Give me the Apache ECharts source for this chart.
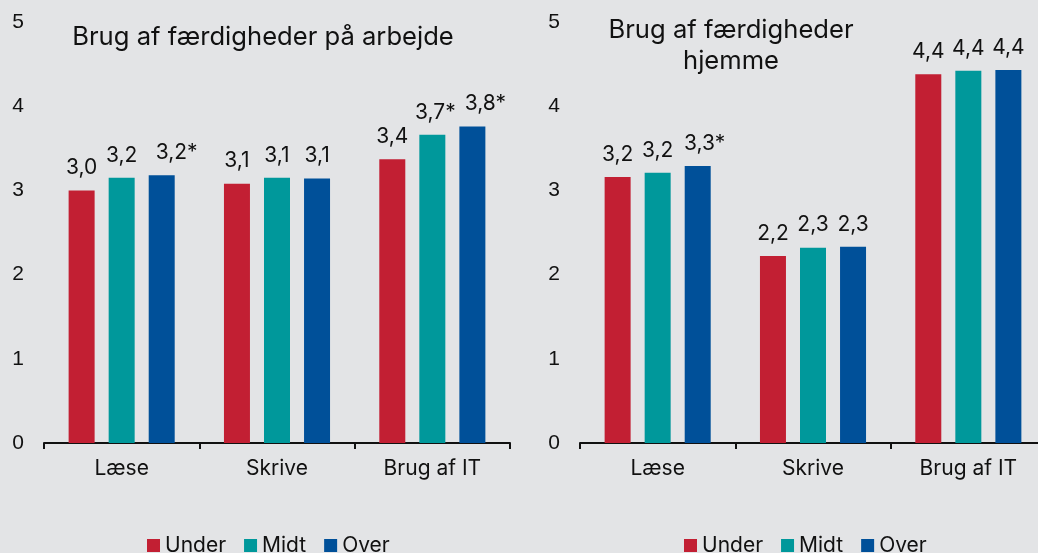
<!DOCTYPE html>
<html>
<head>
<meta charset="utf-8">
<script src="https://cdn.jsdelivr.net/npm/echarts@6/dist/echarts.min.js"></script>
<style>
  html, body { margin: 0; padding: 0; background: #e3e4e6; }
  #chart { width: 1038px; height: 553px; }
</style>
</head>
<body>
<div id="chart"></div>
<script>
// Categories and groups
const categories = ['Læse', 'Skrive', 'Brug af IT'];
const groups = ['Under', 'Midt', 'Over'];
const colors = ['#c21f33', '#00989b', '#005099'];

// Panel 1: at work
const workUnder = [3.0, 3.08, 3.37];
const workMidt = [3.15, 3.15, 3.66];
const workOver = [3.18, 3.14, 3.76];
const workLabels = [['3,0', '3,1', '3,4'], ['3,2', '3,1', '3,7*'], ['3,2*', '3,1', '3,8*']];

// Panel 2: at home
const homeUnder = [3.16, 2.22, 4.38];
const homeMidt = [3.21, 2.32, 4.42];
const homeOver = [3.29, 2.33, 4.43];
const homeLabels = [['3,2', '2,2', '4,4'], ['3,2', '2,3', '4,4'], ['3,3*', '2,3', '4,4']];

// horizontal nudges for the starred labels (series index -> data index -> px)
const workNudge = [[0, 0, 0], [0, 0, 3], [15, 0, 13]];
const homeNudge = [[0, 0, 0], [0, 0, 0], [7, 0, 0]];

const font = 'Inter';

function makeSeries(values, labels, nudge, idx) {
    return values.map((vals, i) => ({
        name: groups[i],
        type: 'bar',
        xAxisIndex: idx,
        yAxisIndex: idx,
        barWidth: 26,
        barGap: '54%',
        itemStyle: { color: colors[i] },
        label: {
            show: true,
            position: 'top',
            distance: 12,
            fontFamily: font,
            fontSize: 21,
            color: '#111',
            formatter: p => labels[i][p.dataIndex]
        },
        data: vals.map((v, j) => ({ value: v, label: { offset: [nudge[i][j], 0] } }))
    }));
}

function xAxis(idx) {
    return {
        type: 'category',
        gridIndex: idx,
        data: categories,
        axisLine: { lineStyle: { color: '#111', width: 2 } },
        axisTick: { show: true, length: 6, lineStyle: { color: '#111', width: 2 } },
        axisLabel: { fontFamily: font, fontSize: 21, color: '#111', margin: 15 }
    };
}

function yAxis(idx) {
    return {
        type: 'value',
        gridIndex: idx,
        min: 0,
        max: 5,
        interval: 1,
        axisLine: { show: false },
        axisTick: { show: false },
        splitLine: { show: false },
        axisLabel: { fontFamily: 'Liberation Sans', fontSize: 21, color: '#111', margin: 20 }
    };
}

function legend(x) {
    return {
        data: groups, left: x, top: 530,
        icon: 'rect', itemWidth: 13, itemHeight: 13, itemGap: 18,
        textStyle: { fontFamily: font, fontSize: 21, color: '#111' }
    };
}

const chart = echarts.init(document.getElementById('chart'));
chart.setOption({
    backgroundColor: '#e3e4e6',
    animation: false,
    title: [
        {
            text: 'Brug af færdigheder på arbejde',
            left: 263, top: 24, textAlign: 'center', padding: 0,
            textStyle: { fontFamily: font, fontSize: 25.6, fontWeight: 'normal', color: '#111' }
        },
        {
            text: 'Brug af færdigheder\nhjemme',
            left: 731, top: 15, textAlign: 'center', padding: 0,
            textStyle: { fontFamily: font, fontSize: 25.6, fontWeight: 'normal', color: '#111', lineHeight: 31 }
        }
    ],
    legend: [legend(142), legend(679)],
    grid: [
        { left: 44, width: 466, top: 22, bottom: 110, outerBoundsMode: 'none' },
        { left: 580, width: 466, top: 22, bottom: 110, outerBoundsMode: 'none' }
    ],
    xAxis: [xAxis(0), xAxis(1)],
    yAxis: [yAxis(0), yAxis(1)],
    series: [
        ...makeSeries([workUnder, workMidt, workOver], workLabels, workNudge, 0),
        ...makeSeries([homeUnder, homeMidt, homeOver], homeLabels, homeNudge, 1)
    ]
});
</script>
</body>
</html>
